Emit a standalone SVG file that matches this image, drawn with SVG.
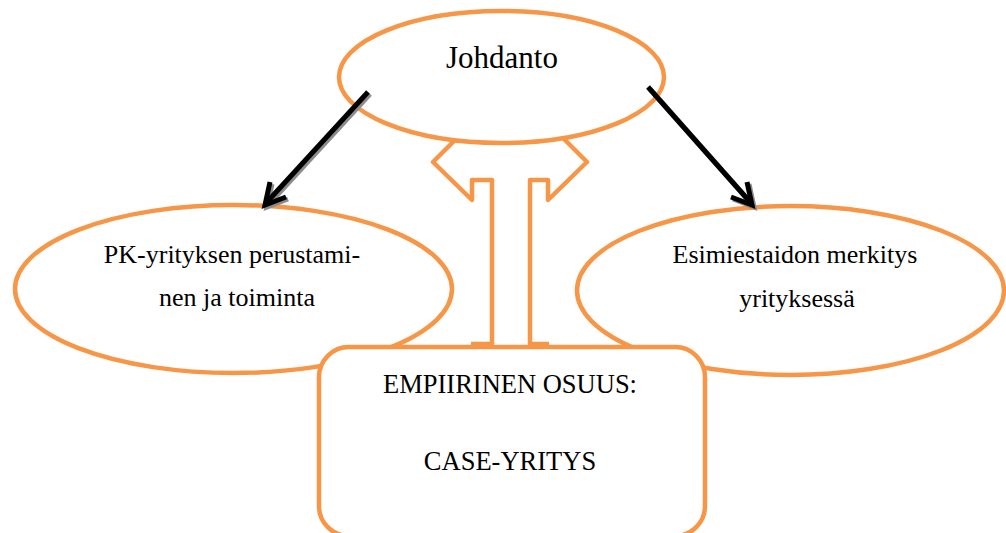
<svg xmlns="http://www.w3.org/2000/svg" width="1006" height="533" viewBox="0 0 1006 533">
  <style>
    .shape { fill: #ffffff; stroke: #F79646; stroke-width: 4.5; }
    .outline { fill: none; stroke: #F79646; stroke-width: 4.5; stroke-linejoin: round; }
    text { font-family: 'Liberation Serif', 'DejaVu Serif', serif; fill: #000000; text-anchor: middle; }
    .arrow { fill: none; stroke: #000000; stroke-width: 5; stroke-linecap: butt; stroke-linejoin: miter; }
    .shadow { fill: none; stroke: #8c8c8c; stroke-width: 5; stroke-linejoin: miter; }
  </style>
  <rect width="1006" height="533" fill="#ffffff"/>

  <g id="node-pk">
    <ellipse class="shape" cx="233.5" cy="289" rx="218.5" ry="84"/>
    <text font-family="Liberation Serif, DejaVu Serif, serif" font-size="26" x="232" y="263">PK-yrityksen perustami-</text>
    <text font-family="Liberation Serif, DejaVu Serif, serif" font-size="26" x="237" y="306">nen ja toiminta</text>
  </g>

  <g id="node-esimies">
    <ellipse class="shape" cx="790.5" cy="290.5" rx="213.5" ry="84.5"/>
    <text font-family="Liberation Serif, DejaVu Serif, serif" font-size="26" x="795" y="263">Esimiestaidon merkitys</text>
    <text font-family="Liberation Serif, DejaVu Serif, serif" font-size="26" x="797" y="307">yrityksessä</text>
  </g>

  <g id="connectors">
    <path id="block-arrow" class="outline" d="M510,85 L433,162 L472,200 L472,180 L492,180 L492,344 L471,344 M510,85 L587,162 L548,200 L548,180 L530,180 L530,344 L549,344"/>
  </g>

  <g id="node-case">
    <rect class="shape" x="319" y="347" width="386" height="189" rx="30" ry="30"/>
    <text font-family="Liberation Serif, DejaVu Serif, serif" font-size="26.5" x="510" y="393">EMPIIRINEN OSUUS:</text>
    <text font-family="Liberation Serif, DejaVu Serif, serif" font-size="26.5" x="510" y="470">CASE-YRITYS</text>
  </g>

  <g id="node-johdanto">
    <ellipse class="shape" cx="501.5" cy="77" rx="162.5" ry="66"/>
    <text font-family="Liberation Serif, DejaVu Serif, serif" font-size="31" x="502" y="68">Johdanto</text>
  </g>

  <g id="arrows">
    <g transform="translate(2,2)">
      <path class="shadow" d="M368,92 L267,202"/>
      <path class="shadow" d="M270,182 L265,205 L286,197"/>
      <path class="shadow" d="M648,87 L750,202"/>
      <path class="shadow" d="M747,182 L752,205 L731,197"/>
    </g>
    <path class="arrow" d="M368,92 L267,202"/>
    <path class="arrow" d="M270,182 L265,205 L286,197"/>
    <path class="arrow" d="M648,87 L750,202"/>
    <path class="arrow" d="M747,182 L752,205 L731,197"/>
  </g>
</svg>
